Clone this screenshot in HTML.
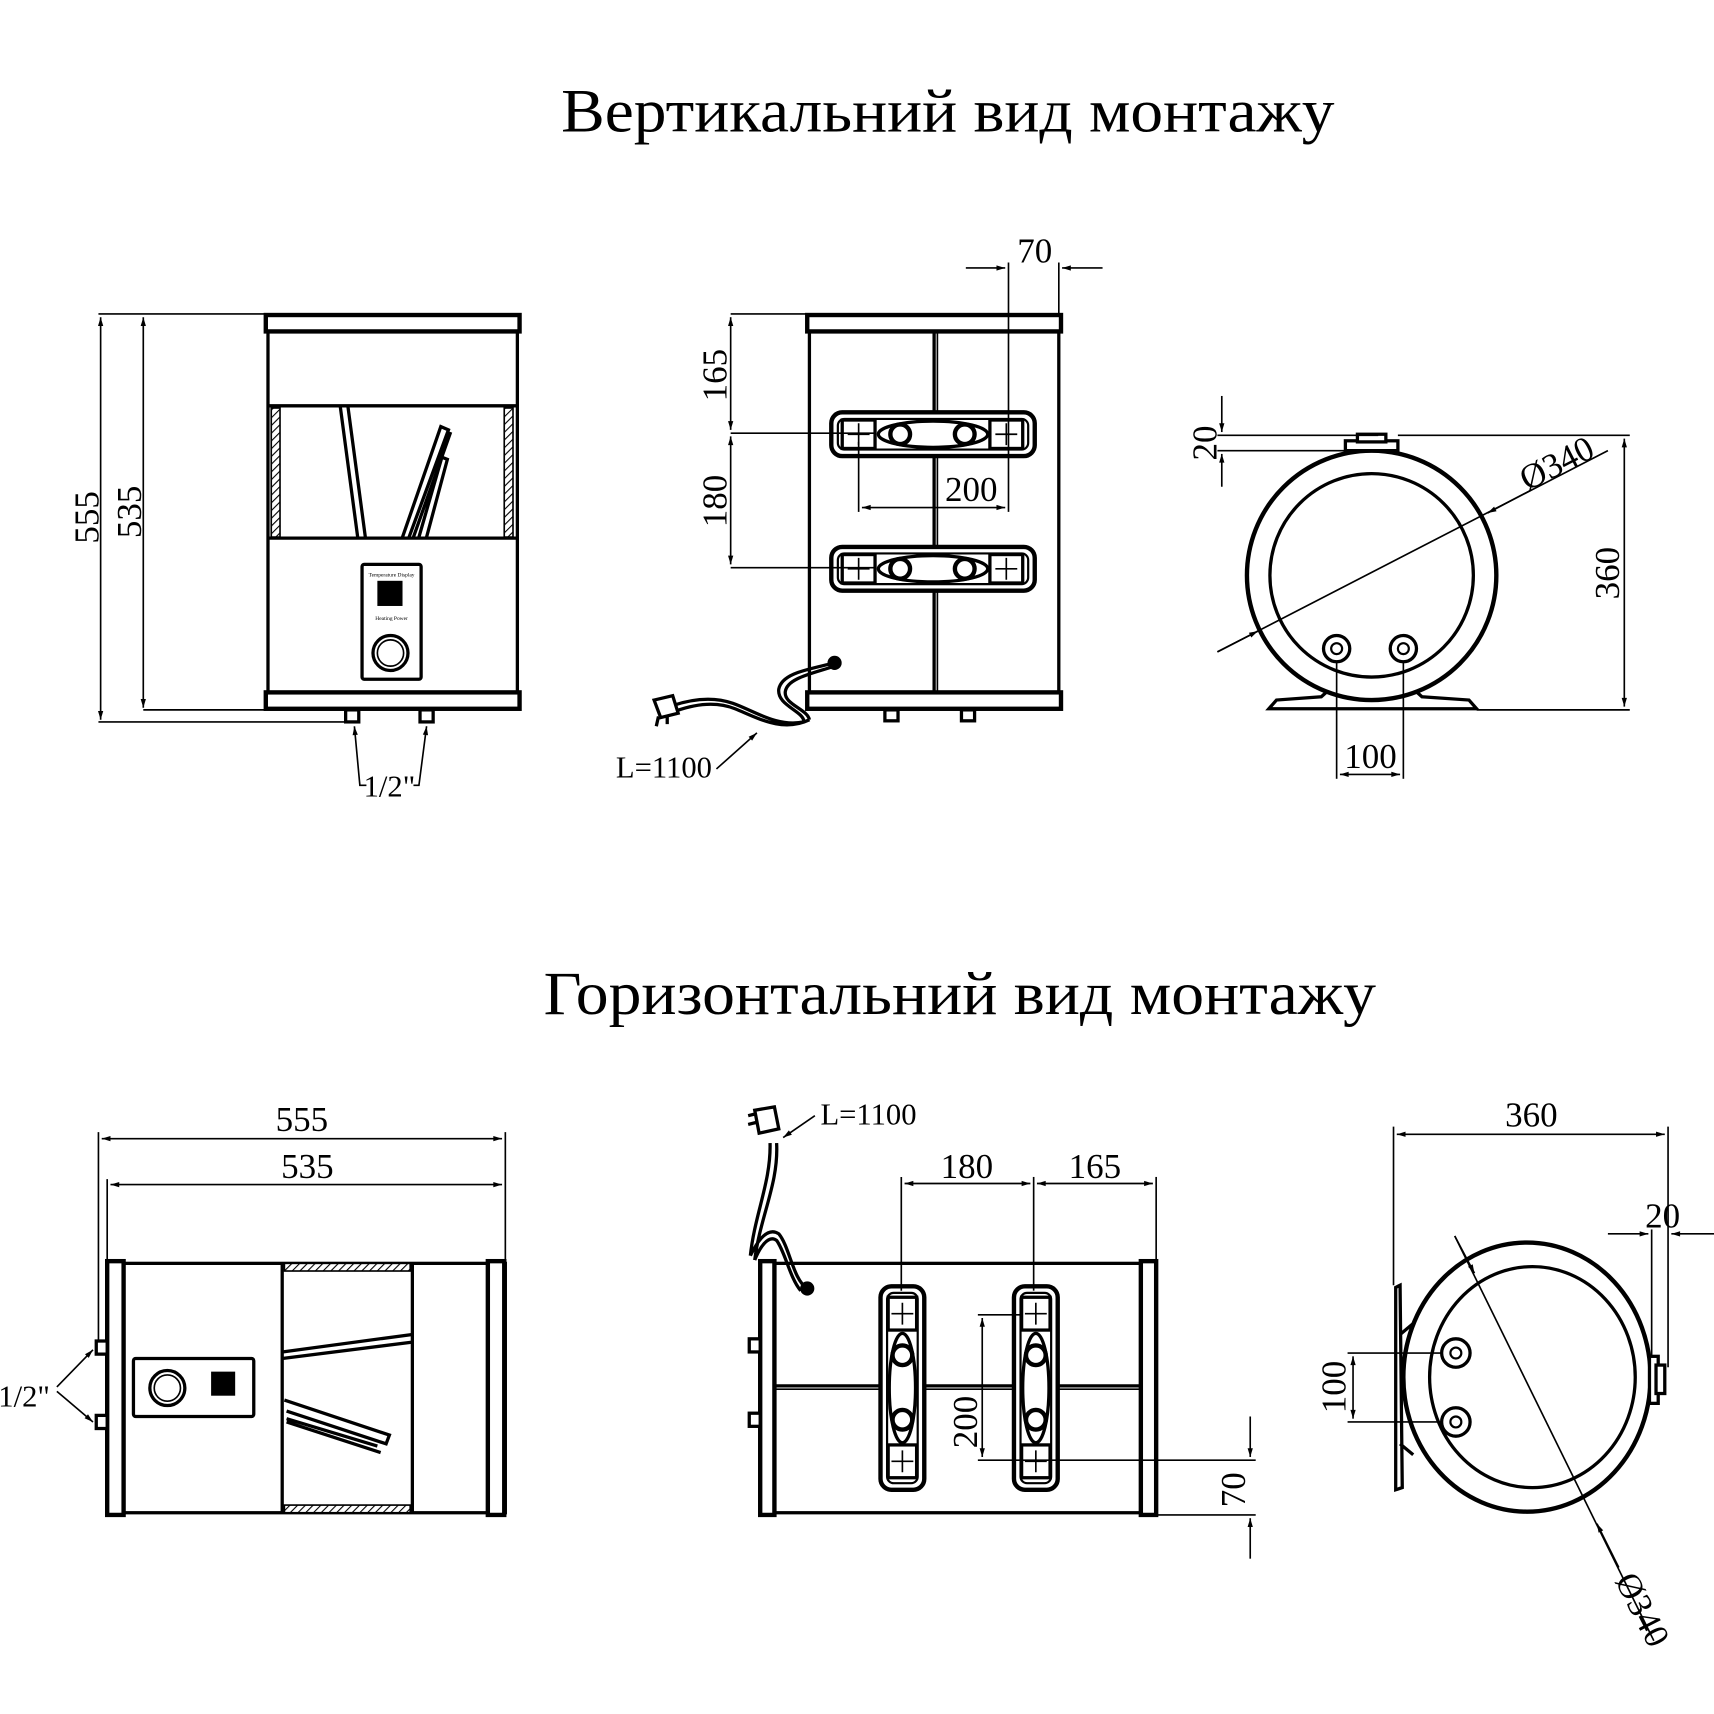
<!DOCTYPE html>
<html><head><meta charset="utf-8"><style>
html,body{margin:0;padding:0;background:#fff}
svg{display:block}
text{font-family:"Liberation Serif",serif;fill:#000}
</style></head><body>
<svg width="1714" height="1714" viewBox="0 0 1567 1567" xmlns="http://www.w3.org/2000/svg">
<defs>
<marker id="a" viewBox="0 0 10 10" refX="10" refY="5" markerWidth="12" markerHeight="8" markerUnits="userSpaceOnUse" orient="auto-start-reverse"><path d="M0,2 L10,5 L0,8 z" fill="#000"/></marker>
<pattern id="h" width="5" height="5" patternUnits="userSpaceOnUse" patternTransform="rotate(45)"><rect width="5" height="5" fill="#fff"/><line x1="0" y1="0" x2="0" y2="5" stroke="#000" stroke-width="2"/></pattern>
<g id="brk">
<rect x="0" y="0" width="186" height="40" rx="10" fill="#fff" stroke="#000" stroke-width="4"/>
<rect x="6" y="6" width="174" height="28" rx="6" fill="none" stroke="#000" stroke-width="2"/>
<rect x="10" y="7" width="30" height="26" fill="#fff" stroke="#000" stroke-width="3"/>
<rect x="145" y="7" width="30" height="26" fill="#fff" stroke="#000" stroke-width="3"/>
<path d="M15,20h20M25,10v20M150,20h20M160,10v20" stroke="#000" stroke-width="1.5"/>
<ellipse cx="93" cy="20" rx="50" ry="12" fill="none" stroke="#000" stroke-width="3"/>
<circle cx="63" cy="20" r="9" fill="#fff" stroke="#000" stroke-width="4"/>
<circle cx="122" cy="20" r="9" fill="#fff" stroke="#000" stroke-width="4"/>
</g>
</defs>
<text x="513" y="120" font-size="56" textLength="707" lengthAdjust="spacingAndGlyphs">Вертикальний вид монтажу</text>
<text x="497" y="927" font-size="56" textLength="761" lengthAdjust="spacingAndGlyphs">Горизонтальний вид монтажу</text>

<g stroke="#000" fill="none" font-size="32">
<!-- View 1 -->
<rect x="245" y="297" width="228" height="342" stroke-width="3"/>
<rect x="243" y="288" width="232" height="15" fill="#fff" stroke-width="4"/>
<rect x="243" y="633" width="232" height="15" fill="#fff" stroke-width="4"/>
<line x1="245" y1="371" x2="473" y2="371" stroke-width="3"/>
<line x1="245" y1="492" x2="473" y2="492" stroke-width="3"/>
<rect x="248" y="373" width="8" height="118" fill="url(#h)" stroke-width="1.5"/>
<rect x="461" y="373" width="8" height="118" fill="url(#h)" stroke-width="1.5"/>
<path d="M311,371 L327,491 M318,371 L334,491" stroke-width="3"/>
<path d="M368,491 L403,390 L410,393 L374,491 M378,491 L412,395 M383,491 L404,418 L409,420 L390,491" stroke-width="3"/>
<rect x="331" y="516" width="54" height="105" rx="2" stroke-width="3"/>
<rect x="345" y="531" width="23" height="23" fill="#000" stroke="none"/>
<circle cx="357" cy="597" r="16" stroke-width="3"/>
<circle cx="357" cy="597" r="12" stroke-width="1.5"/>
<text x="358" y="527" font-size="5" text-anchor="middle" stroke="none">Temperature Display</text>
<text x="358" y="567" font-size="5" text-anchor="middle" stroke="none">Heating   Power</text>
<rect x="316" y="649" width="12" height="11" fill="#fff" stroke-width="3"/>
<rect x="384" y="649" width="12" height="11" fill="#fff" stroke-width="3"/>
<line x1="90" y1="287" x2="243" y2="287" stroke-width="1.5"/>
<line x1="90" y1="660" x2="316" y2="660" stroke-width="1.5"/>
<line x1="131" y1="649" x2="243" y2="649" stroke-width="1.5"/>
<line x1="92" y1="290" x2="92" y2="658" stroke-width="1.5" marker-start="url(#a)" marker-end="url(#a)"/>
<line x1="131" y1="290" x2="131" y2="647" stroke-width="1.5" marker-start="url(#a)" marker-end="url(#a)"/>
<text transform="translate(90,473) rotate(-90)" text-anchor="middle" stroke="none">555</text>
<text transform="translate(129,468) rotate(-90)" text-anchor="middle" stroke="none">535</text>
<path d="M335,718 L329,718 L324,664" stroke-width="1.5" marker-end="url(#a)"/>
<path d="M378,718 L383,718 L390,664" stroke-width="1.5" marker-end="url(#a)"/>
<text x="356" y="728" text-anchor="middle" stroke="none" font-size="28">1/2"</text>

<!-- View 2 -->
<rect x="740" y="297" width="228" height="342" stroke-width="3"/>
<rect x="738" y="288" width="232" height="15" fill="#fff" stroke-width="4"/>
<rect x="738" y="633" width="232" height="15" fill="#fff" stroke-width="4"/>
<line x1="854" y1="303" x2="854" y2="633" stroke-width="3"/>
<line x1="857" y1="303" x2="857" y2="633" stroke-width="1.5"/>
<use href="#brk" x="760" y="377"/>
<use href="#brk" x="760" y="500"/>
<rect x="809" y="649" width="12" height="10" fill="#fff" stroke-width="3"/>
<rect x="879" y="649" width="12" height="10" fill="#fff" stroke-width="3"/>
<circle cx="763" cy="606" r="6" fill="#000"/>
<path d="M763,606 C740,612 715,615 712,630 C710,645 735,650 735,660 M763,609 C742,616 720,620 718,632 C716,644 738,648 740,658 M735,660 C710,665 690,650 670,643 C650,636 630,640 615,645 M740,658 C715,670 692,656 672,648 C652,640 632,645 618,650" stroke-width="3"/>
<path d="M598,640 L615,636 L620,652 L604,656 z M602,655 L600,664 M610,654 L610,662" fill="#fff" stroke-width="3"/>
<line x1="668" y1="287" x2="738" y2="287" stroke-width="1.5"/>
<line x1="668" y1="396" x2="800" y2="396" stroke-width="1.5"/>
<line x1="668" y1="519" x2="800" y2="519" stroke-width="1.5"/>
<line x1="668" y1="290" x2="668" y2="393" stroke-width="1.5" marker-start="url(#a)" marker-end="url(#a)"/>
<line x1="668" y1="399" x2="668" y2="516" stroke-width="1.5" marker-start="url(#a)" marker-end="url(#a)"/>
<text transform="translate(664,343) rotate(-90)" text-anchor="middle" stroke="none">165</text>
<text transform="translate(664,458) rotate(-90)" text-anchor="middle" stroke="none">180</text>
<line x1="785" y1="404" x2="785" y2="468" stroke-width="1.5"/>
<line x1="922" y1="240" x2="922" y2="468" stroke-width="1.5"/>
<line x1="788" y1="464" x2="919" y2="464" stroke-width="1.5" marker-start="url(#a)" marker-end="url(#a)"/>
<text x="888" y="458" text-anchor="middle" stroke="none">200</text>
<line x1="968" y1="240" x2="968" y2="288" stroke-width="1.5"/>
<line x1="883" y1="245" x2="919" y2="245" stroke-width="1.5" marker-end="url(#a)"/>
<line x1="1008" y1="245" x2="971" y2="245" stroke-width="1.5" marker-end="url(#a)"/>
<text x="946" y="240" text-anchor="middle" stroke="none">70</text>
<path d="M655,703 L692,670" stroke-width="1.5" marker-end="url(#a)"/>
<text x="607" y="711" text-anchor="middle" stroke="none" font-size="28">L=1100</text>

<!-- View 3 -->
<path d="M1160,648 L1350,648 L1343,640 L1300,637 L1290,628 L1218,628 L1208,637 L1167,640 z" fill="#fff" stroke-width="3"/>
<ellipse cx="1254" cy="526" rx="114" ry="114" fill="#fff" stroke-width="4"/>
<ellipse cx="1254" cy="526" rx="93" ry="93" stroke-width="3"/>
<rect x="1230" y="403" width="48" height="9" fill="#fff" stroke-width="3"/>
<rect x="1241" y="397" width="26" height="7" fill="#fff" stroke-width="3"/>
<circle cx="1222" cy="593" r="12" stroke-width="3"/><circle cx="1222" cy="593" r="5" stroke-width="2"/>
<circle cx="1283" cy="593" r="12" stroke-width="3"/><circle cx="1283" cy="593" r="5" stroke-width="2"/>
<line x1="1113" y1="398" x2="1260" y2="398" stroke-width="1.5"/>
<line x1="1113" y1="412" x2="1230" y2="412" stroke-width="1.5"/>
<line x1="1117" y1="362" x2="1117" y2="395" stroke-width="1.5" marker-end="url(#a)"/>
<line x1="1117" y1="445" x2="1117" y2="415" stroke-width="1.5" marker-end="url(#a)"/>
<text transform="translate(1112,405) rotate(-90)" text-anchor="middle" stroke="none">20</text>
<line x1="1278" y1="398" x2="1490" y2="398" stroke-width="1.5"/>
<line x1="1350" y1="649" x2="1490" y2="649" stroke-width="1.5"/>
<line x1="1485" y1="401" x2="1485" y2="646" stroke-width="1.5" marker-start="url(#a)" marker-end="url(#a)"/>
<text transform="translate(1480,524) rotate(-90)" text-anchor="middle" stroke="none">360</text>
<line x1="1113" y1="596" x2="1470" y2="412" stroke-width="1.5"/>
<line x1="1113" y1="596" x2="1150" y2="577" stroke-width="1.5" marker-end="url(#a)"/>
<line x1="1400" y1="448" x2="1360" y2="469" stroke-width="1.5" marker-end="url(#a)"/>
<text transform="translate(1428,433) rotate(-27)" text-anchor="middle" stroke="none">Ø340</text>
<line x1="1222" y1="605" x2="1222" y2="712" stroke-width="1.5"/>
<line x1="1283" y1="605" x2="1283" y2="712" stroke-width="1.5"/>
<line x1="1225" y1="708" x2="1280" y2="708" stroke-width="1.5" marker-start="url(#a)" marker-end="url(#a)"/>
<text x="1253" y="702" text-anchor="middle" stroke="none">100</text>

<!-- View 4 -->
<rect x="98" y="1155" width="364" height="228" stroke-width="3"/>
<rect x="98" y="1153" width="15" height="232" fill="#fff" stroke-width="4"/>
<rect x="446" y="1153" width="15" height="232" fill="#fff" stroke-width="4"/>
<line x1="258" y1="1155" x2="258" y2="1383" stroke-width="3"/>
<line x1="377" y1="1155" x2="377" y2="1383" stroke-width="3"/>
<rect x="260" y="1155" width="115" height="7" fill="url(#h)" stroke-width="1.5"/>
<rect x="260" y="1376" width="115" height="7" fill="url(#h)" stroke-width="1.5"/>
<path d="M258,1236 L377,1220 M258,1242 L377,1227" stroke-width="3"/>
<path d="M260,1280 L356,1312 L353,1320 L262,1290 M262,1297 L345,1322 M262,1300 L348,1328" stroke-width="3"/>
<rect x="122" y="1242" width="110" height="53" rx="2" stroke-width="3"/>
<rect x="193" y="1254" width="22" height="22" fill="#000" stroke="none"/>
<circle cx="153" cy="1269" r="16" stroke-width="3"/>
<circle cx="153" cy="1269" r="12" stroke-width="1.5"/>
<rect x="88" y="1226" width="10" height="12" fill="#fff" stroke-width="3"/>
<rect x="88" y="1294" width="10" height="12" fill="#fff" stroke-width="3"/>
<line x1="90" y1="1035" x2="90" y2="1226" stroke-width="1.5"/>
<line x1="462" y1="1035" x2="462" y2="1153" stroke-width="1.5"/>
<line x1="98" y1="1078" x2="98" y2="1153" stroke-width="1.5"/>
<line x1="93" y1="1041" x2="459" y2="1041" stroke-width="1.5" marker-start="url(#a)" marker-end="url(#a)"/>
<line x1="101" y1="1083" x2="459" y2="1083" stroke-width="1.5" marker-start="url(#a)" marker-end="url(#a)"/>
<text x="276" y="1034" text-anchor="middle" stroke="none">555</text>
<text x="281" y="1077" text-anchor="middle" stroke="none">535</text>
<line x1="52" y1="1268" x2="85" y2="1234" stroke-width="1.5" marker-end="url(#a)"/>
<line x1="52" y1="1272" x2="85" y2="1300" stroke-width="1.5" marker-end="url(#a)"/>
<text x="22" y="1286" text-anchor="middle" stroke="none" font-size="28">1/2"</text>

<!-- View 5 -->
<rect x="697" y="1155" width="360" height="228" stroke-width="3"/>
<rect x="695" y="1153" width="13" height="232" fill="#fff" stroke-width="4"/>
<rect x="1043" y="1153" width="14" height="232" fill="#fff" stroke-width="4"/>
<line x1="708" y1="1267" x2="1043" y2="1267" stroke-width="3"/>
<line x1="708" y1="1270" x2="1043" y2="1270" stroke-width="1.5"/>
<use href="#brk" transform="translate(845,1176) rotate(90)"/>
<use href="#brk" transform="translate(967,1176) rotate(90)"/>
<rect x="685" y="1224" width="10" height="12" fill="#fff" stroke-width="3"/>
<rect x="685" y="1292" width="10" height="12" fill="#fff" stroke-width="3"/>
<circle cx="738" cy="1178" r="6" fill="#000"/>
<path d="M738,1178 C725,1170 722,1140 712,1128 C700,1120 690,1140 686,1148 M732,1180 C722,1168 718,1145 710,1134 C702,1128 694,1142 690,1152 M686,1148 C690,1110 705,1080 704,1045 M690,1152 C695,1112 712,1082 710,1045" stroke-width="3"/>
<path d="M690,1015 L708,1012 L712,1032 L694,1036 z M684,1020 L692,1018 M684,1028 L692,1026" fill="#fff" stroke-width="3"/>
<line x1="824" y1="1076" x2="824" y2="1180" stroke-width="1.5"/>
<line x1="945" y1="1076" x2="945" y2="1180" stroke-width="1.5"/>
<line x1="1057" y1="1076" x2="1057" y2="1153" stroke-width="1.5"/>
<line x1="827" y1="1082" x2="942" y2="1082" stroke-width="1.5" marker-start="url(#a)" marker-end="url(#a)"/>
<line x1="948" y1="1082" x2="1054" y2="1082" stroke-width="1.5" marker-start="url(#a)" marker-end="url(#a)"/>
<text x="884" y="1077" text-anchor="middle" stroke="none">180</text>
<text x="1001" y="1077" text-anchor="middle" stroke="none">165</text>
<line x1="894" y1="1202" x2="935" y2="1202" stroke-width="1.5"/>
<line x1="894" y1="1335" x2="1148" y2="1335" stroke-width="1.5"/>
<line x1="898" y1="1205" x2="898" y2="1332" stroke-width="1.5" marker-start="url(#a)" marker-end="url(#a)"/>
<text transform="translate(893,1300) rotate(-90)" text-anchor="middle" stroke="none">200</text>
<line x1="1057" y1="1385" x2="1148" y2="1385" stroke-width="1.5"/>
<line x1="1143" y1="1295" x2="1143" y2="1332" stroke-width="1.5" marker-end="url(#a)"/>
<line x1="1143" y1="1425" x2="1143" y2="1388" stroke-width="1.5" marker-end="url(#a)"/>
<text transform="translate(1138,1362) rotate(-90)" text-anchor="middle" stroke="none">70</text>
<path d="M745,1020 L716,1040" stroke-width="1.5" marker-end="url(#a)"/>
<text x="794" y="1028" text-anchor="middle" stroke="none" font-size="28">L=1100</text>

<!-- View 6 -->
<path d="M1276,1177 L1280,1175 L1282,1360 L1276,1362 z" fill="#fff" stroke-width="3"/>
<path d="M1280,1220 L1292,1210 M1280,1320 L1292,1330" stroke-width="3"/>
<ellipse cx="1396" cy="1259" rx="113" ry="123" fill="#fff" stroke-width="4"/>
<ellipse cx="1401" cy="1259" rx="94" ry="101" stroke-width="3"/>
<rect x="1508" y="1240" width="8" height="43" fill="#fff" stroke-width="3"/>
<rect x="1514" y="1248" width="8" height="26" fill="#fff" stroke-width="3"/>
<circle cx="1331" cy="1237" r="13" stroke-width="3"/><circle cx="1331" cy="1237" r="5" stroke-width="2"/>
<circle cx="1331" cy="1300" r="13" stroke-width="3"/><circle cx="1331" cy="1300" r="5" stroke-width="2"/>
<line x1="1274" y1="1030" x2="1274" y2="1175" stroke-width="1.5"/>
<line x1="1525" y1="1030" x2="1525" y2="1250" stroke-width="1.5"/>
<line x1="1277" y1="1037" x2="1522" y2="1037" stroke-width="1.5" marker-start="url(#a)" marker-end="url(#a)"/>
<text x="1400" y="1030" text-anchor="middle" stroke="none">360</text>
<line x1="1510" y1="1124" x2="1510" y2="1240" stroke-width="1.5"/>
<line x1="1470" y1="1128" x2="1507" y2="1128" stroke-width="1.5" marker-end="url(#a)"/>
<line x1="1567" y1="1128" x2="1528" y2="1128" stroke-width="1.5" marker-end="url(#a)"/>
<text x="1520" y="1122" text-anchor="middle" stroke="none">20</text>
<line x1="1232" y1="1237" x2="1318" y2="1237" stroke-width="1.5"/>
<line x1="1232" y1="1300" x2="1318" y2="1300" stroke-width="1.5"/>
<line x1="1237" y1="1240" x2="1237" y2="1297" stroke-width="1.5" marker-start="url(#a)" marker-end="url(#a)"/>
<text transform="translate(1230,1268) rotate(-90)" text-anchor="middle" stroke="none">100</text>
<line x1="1330" y1="1130" x2="1512" y2="1500" stroke-width="1.5"/>
<line x1="1330" y1="1130" x2="1348" y2="1164" stroke-width="1.5" marker-end="url(#a)"/>
<line x1="1480" y1="1433" x2="1460" y2="1393" stroke-width="1.5" marker-end="url(#a)"/>
<text transform="translate(1485,1480) rotate(63)" text-anchor="middle" stroke="none" dy="-8">Ø340</text>
</g>
</svg>
</body></html>
